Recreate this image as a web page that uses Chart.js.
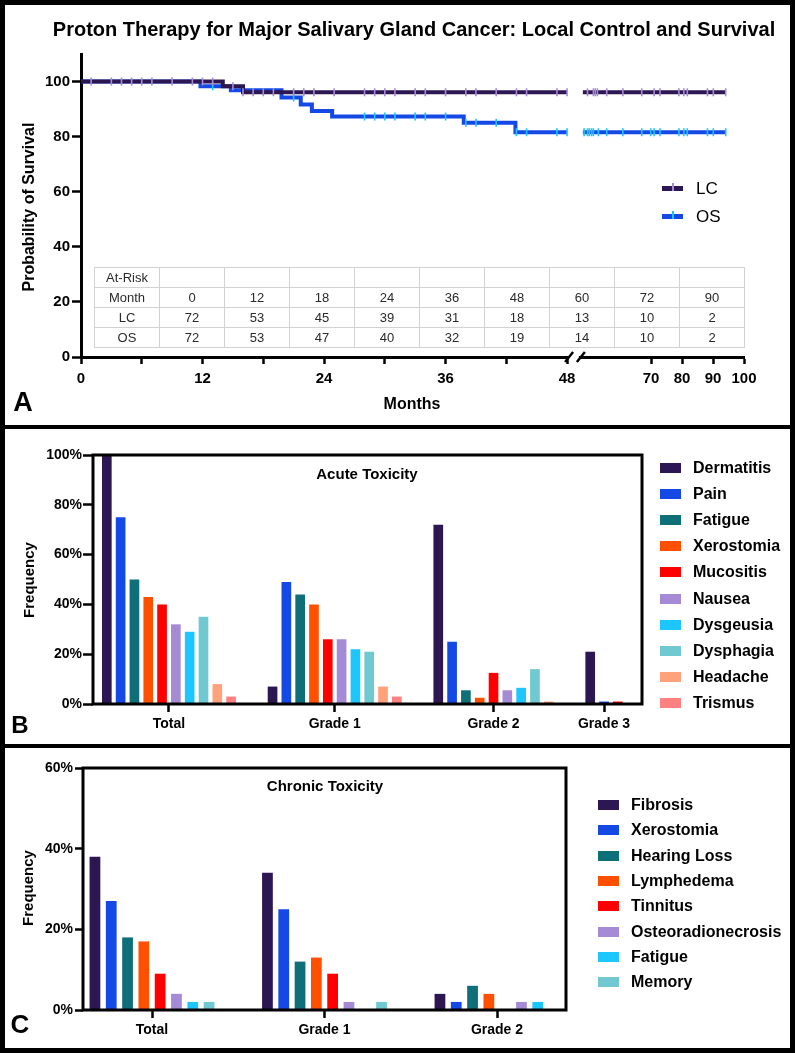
<!DOCTYPE html>
<html>
<head>
<meta charset="utf-8">
<script src="https://cdn.jsdelivr.net/npm/chart.js@4.4.1/dist/chart.umd.min.js"></script>
<style>
  body { margin: 0; background: #fff; }
  #fig { position: relative; width: 795px; height: 1053px; overflow: hidden;
         font-family: "Liberation Sans", Arial, sans-serif; color: #000; }
  #fig canvas { position: absolute; left: 0; }
  .lbl { position: absolute; transform: translate(-50%, -50%); white-space: nowrap;
         font-weight: bold; line-height: 1; }
  .rot { transform: translate(-50%, -50%) rotate(-90deg); }
  .rule { position: absolute; background: #000; }
  .leg { position: absolute; font-weight: bold; font-size: 16px; line-height: 1;
         transform: translateY(-50%); white-space: nowrap; }
  .sw { position: absolute; width: 21px; height: 10px; }
  #risk { position: absolute; left: 94px; top: 267px; display: grid;
          grid-template-columns: repeat(10, 65px); grid-auto-rows: 20px;
          border-left: 1px solid #d2d2d2; border-top: 1px solid #d2d2d2; }
  #risk div { box-sizing: border-box; border-right: 1px solid #d2d2d2; border-bottom: 1px solid #d2d2d2;
              font-size: 13px; color: #2a2a2a; display: flex; align-items: center; justify-content: center; }
</style>
</head>
<body>
<div id="fig">
  <canvas id="km" width="795" height="427" style="top:0;width:795px;height:427px"></canvas>
  <canvas id="acute" width="795" height="319" style="top:427px;width:795px;height:319px"></canvas>
  <canvas id="chronic" width="795" height="307" style="top:746px;width:795px;height:307px"></canvas>

  <div class="lbl" style="left:414px;top:29px;font-size:20px">Proton Therapy for Major Salivary Gland Cancer: Local Control and Survival</div>
  <div class="lbl rot" style="left:29px;top:207px;font-size:16px">Probability of Survival</div>
  <div class="lbl" style="left:412px;top:404px;font-size:16px">Months</div>
  <div class="lbl" style="left:23px;top:402px;font-size:27px">A</div>
  <div class="lbl rot" style="left:28px;top:580px;font-size:15px">Frequency</div>
  <div class="lbl" style="left:367px;top:473px;font-size:15px">Acute Toxicity</div>
  <div class="lbl" style="left:20px;top:725px;font-size:24px">B</div>
  <div class="lbl rot" style="left:27px;top:888px;font-size:15px">Frequency</div>
  <div class="lbl" style="left:325px;top:785px;font-size:15px">Chronic Toxicity</div>
  <div class="lbl" style="left:20px;top:1024px;font-size:26px">C</div>

  <div id="risk"></div>

  <div class="rule" style="left:0;top:0;width:795px;height:5px"></div>
  <div class="rule" style="left:0;top:1048px;width:795px;height:5px"></div>
  <div class="rule" style="left:0;top:0;width:5px;height:1053px"></div>
  <div class="rule" style="left:790px;top:0;width:5px;height:1053px"></div>
  <div class="rule" style="left:0;top:425px;width:795px;height:4px"></div>
  <div class="rule" style="left:0;top:744px;width:795px;height:4px"></div>
</div>
<script>
// ---------- A: Kaplan-Meier local control / overall survival ----------
const lcTimes = [0, 14, 16, 94.1];
const lcSurv  = [100, 98.3, 96.1, 96.1];
const osTimes = [0, 11.8, 14.8, 19.8, 21.7, 22.8, 24.8, 37.8, 42.9, 94.1];
const osSurv  = [100, 98.3, 96.8, 94.2, 91.7, 89.3, 87.3, 85.0, 81.6, 81.6];

// censored observations (months)
const lcCensored = [1, 3, 4, 5, 6, 7, 9, 11, 12, 13, 15, 16, 17, 18, 19, 21, 22, 23, 25,
  28, 29, 30, 31, 33, 34, 36, 38, 39, 41, 43, 44, 47, 48,
  49.5, 51.4, 52, 52.7, 55.7, 60.9, 67, 71, 72.9, 79, 80.6, 81.7, 88.2, 90.1, 94.1];
const osCensored = [13, 21, 28, 29, 30, 31, 33, 34, 36, 38, 39, 41, 43, 44, 47, 48,
  48.4, 49.5, 50.1, 50.8, 51.4, 53, 55.7, 60.9, 67, 69.9, 71, 72.9, 79, 80.6, 81.7, 88.2, 90.1, 94.1];

const monthTicks  = [0, 6, 12, 18, 24, 30, 36, 42, 48, 70, 80, 90, 100];
const monthLabels = ['0', '', '12', '', '24', '', '36', '', '48', '70', '80', '90', '100'];
const survTicks   = [0, 20, 40, 60, 80, 100];

const riskMonths = ['0', '12', '18', '24', '36', '48', '60', '72', '90'];
const riskLC     = [72, 53, 45, 39, 31, 18, 13, 10, 2];
const riskOS     = [72, 53, 47, 40, 32, 19, 14, 10, 2];

// ---------- B: acute toxicity (% of patients) : Total, Grade 1, Grade 2, Grade 3 ----------
const acuteGroups = ['Total', 'Grade 1', 'Grade 2', 'Grade 3'];
const dermatitisAcute = [100, 7, 72, 21];
const painAcute       = [75, 49, 25, 1];
const fatigueAcute    = [50, 44, 5.5, null];
const xerostomiaAcute = [43, 40, 2.5, null];
const mucositisAcute  = [40, 26, 12.5, 1];
const nauseaAcute     = [32, 26, 5.5, null];
const dysgeusiaAcute  = [29, 22, 6.5, null];
const dysphagiaAcute  = [35, 21, 14, null];
const headacheAcute   = [8, 7, 1, null];
const trismusAcute    = [3, 3, null, null];
const acuteTicks = [0, 20, 40, 60, 80, 100];

// ---------- C: chronic toxicity (% of patients) : Total, Grade 1, Grade 2 ----------
const chronicGroups = ['Total', 'Grade 1', 'Grade 2'];
const fibrosisChronic     = [38, 34, 4];
const xerostomiaChronic   = [27, 25, 2];
const hearingChronic      = [18, 12, 6];
const lymphedemaChronic   = [17, 13, 4];
const tinnitusChronic     = [9, 9, null];
const osteoChronic        = [4, 2, 2];
const fatigueChronic      = [2, null, 2];
const memoryChronic       = [2, 2, null];
const chronicTicks = [0, 20, 40, 60];

// ---------- styling ----------
const DARK = '#2d1752', BLUE = '#1449e6', TEAL = '#0f6f78', ORANGE = '#ff5000', RED = '#ff0000',
      LAV = '#a58ad6', CYAN = '#1ec6ff', LTEAL = '#70c8d0', SALMON = '#ffa27c', PINK = '#ff8080';

Chart.defaults.font.family = '"Liberation Sans", Arial, sans-serif';
Chart.defaults.font.size = 14;
Chart.defaults.font.weight = 'bold';
Chart.defaults.color = '#000';
Chart.defaults.animation = false;
Chart.defaults.plugins.legend.display = false;
Chart.defaults.plugins.tooltip.enabled = false;

const setTicks = (values) => (scale) => { scale.ticks = values.map(v => ({ value: v })); };
const fixWidth = (w) => (scale) => { scale.width = w; };
const fixHeight = (h) => (scale) => { scale.height = h; };
const tickGrid = (len) => ({ drawOnChartArea: false, drawTicks: true, tickLength: len, offset: false,
                             tickWidth: 2.5, tickColor: '#000', color: '#000' });

// ---- axis break: 0-48 months at full scale, 48-100 compressed ----
const BREAK_AT = 48, BREAK_GAP = 1.56, SEG2_SCALE = 0.306;
const tx = (m, second = m > BREAK_AT) =>
  second ? BREAK_AT + BREAK_GAP + (m - BREAK_AT) * SEG2_SCALE : m;

function survAt(times, surv, t) {
  let s = surv[0];
  times.forEach((tt, i) => { if (tt <= t) s = surv[i]; });
  return s;
}
function kmPoints(times, surv) {
  const pts = [];
  let broke = false;
  times.forEach((t, i) => {
    if (!broke && t > BREAK_AT) {
      const s = survAt(times, surv, BREAK_AT);
      pts.push({ x: tx(BREAK_AT), y: s }, { x: tx(BREAK_AT), y: null }, { x: tx(BREAK_AT, true), y: s });
      broke = true;
    }
    pts.push({ x: tx(t), y: surv[i] });
  });
  return pts;
}
const censorPoints = (marks, times, surv) => marks.map(m => ({ x: tx(m), y: survAt(times, surv, m) }));

const censorSet = (data, color) => ({
  data, showLine: false, pointStyle: 'line', pointRotation: 90, pointRadius: 4,
  pointBorderWidth: 1.6, pointBorderColor: color, pointBackgroundColor: color
});
const kmSet = (data, color) => ({
  data, stepped: 'before', borderColor: color, borderWidth: 4, pointRadius: 0,
  borderJoinStyle: 'miter', fill: false
});

const breakPlugin = {
  id: 'axisBreak',
  afterDraw(chart) {
    const { ctx, chartArea, scales } = chart;
    const x1 = scales.x.getPixelForValue(tx(BREAK_AT));
    const x2 = scales.x.getPixelForValue(tx(BREAK_AT, true));
    const y = chartArea.bottom;
    ctx.save();
    ctx.fillStyle = '#fff';
    ctx.fillRect(x1 + 2, y - 4, x2 - x1 - 6, 8);
    ctx.strokeStyle = '#000';
    ctx.lineWidth = 2.5;
    ctx.beginPath();
    ctx.moveTo(x1 - 2, y + 5); ctx.lineTo(x1 + 6, y - 5);
    ctx.moveTo(x2 - 6, y + 5); ctx.lineTo(x2 + 2, y - 5);
    ctx.stroke();
    ctx.restore();
  }
};

new Chart(document.getElementById('km'), {
  type: 'line',
  data: {
    datasets: [
      censorSet(censorPoints(lcCensored, lcTimes, lcSurv), LAV),
      censorSet(censorPoints(osCensored, osTimes, osSurv), CYAN),
      kmSet(kmPoints(lcTimes, lcSurv), DARK),
      kmSet(kmPoints(osTimes, osSurv), BLUE)
    ]
  },
  options: {
    responsive: false,
    layout: { padding: { left: 0, right: 51, top: 54, bottom: 0 } },
    scales: {
      x: {
        type: 'linear', min: 0, max: tx(100), offset: false,
        afterBuildTicks: setTicks(monthTicks.map(m => tx(m))),
        afterFit: fixHeight(70),
        border: { display: true, color: '#000', width: 3 },
        grid: tickGrid(7),
        ticks: { autoSkip: false, maxRotation: 0, padding: 6, font: { size: 15 },
                 callback: (v, i) => monthLabels[i] }
      },
      y: {
        min: 0, max: 110,
        afterBuildTicks: setTicks(survTicks),
        afterFit: fixWidth(81),
        border: { display: true, color: '#000', width: 3 },
        grid: tickGrid(9),
        ticks: { padding: 2, font: { size: 15 } }
      }
    }
  },
  plugins: [breakPlugin]
});

// ---- at-risk table ----
const riskEl = document.getElementById('risk');
[['At-Risk', ...riskMonths.map(() => '')], ['Month', ...riskMonths], ['LC', ...riskLC], ['OS', ...riskOS]]
  .forEach(row => row.forEach(txt => {
    const c = document.createElement('div');
    c.textContent = txt;
    riskEl.appendChild(c);
  }));

// ---- KM legend ----
const fig = document.getElementById('fig');
function addEl(cls, css, text) {
  const d = document.createElement('div');
  d.className = cls;
  d.style.cssText = css;
  if (text) d.textContent = text;
  fig.appendChild(d);
  return d;
}
[['LC', DARK, LAV, 188], ['OS', BLUE, CYAN, 216]].forEach(([name, line, tick, cy]) => {
  addEl('', `position:absolute;left:662px;top:${cy - 2.5}px;width:21px;height:5px;background:${line}`);
  addEl('', `position:absolute;left:672px;top:${cy - 5}px;width:1.6px;height:8px;background:${tick}`);
  addEl('leg', `left:696px;top:${cy}px;font-size:17px;font-weight:normal`, name);
});

const framePlugin = {
  id: 'frame',
  afterDatasetsDraw(chart) {
    const { ctx, chartArea: a } = chart;
    ctx.save();
    ctx.lineWidth = 3;
    ctx.strokeStyle = '#000';
    ctx.strokeRect(a.left, a.top, a.right - a.left, a.bottom - a.top);
    ctx.restore();
  }
};

// ---------- B: acute toxicity bars ----------
const acuteSeries = [
  ['Dermatitis', dermatitisAcute, DARK], ['Pain', painAcute, BLUE], ['Fatigue', fatigueAcute, TEAL],
  ['Xerostomia', xerostomiaAcute, ORANGE], ['Mucositis', mucositisAcute, RED], ['Nausea', nauseaAcute, LAV],
  ['Dysgeusia', dysgeusiaAcute, CYAN], ['Dysphagia', dysphagiaAcute, LTEAL], ['Headache', headacheAcute, SALMON],
  ['Trismus', trismusAcute, PINK]
];
// bars of each grade sit side by side; empty entries take no room, 2 empty slots between grades
const acutePoints = acuteSeries.map(() => []);
const acuteCenters = [];
let slot = 0;
acuteGroups.forEach((g, gi) => {
  const start = slot;
  acuteSeries.forEach(([, vals], si) => {
    if (vals[gi] !== null) { acutePoints[si].push({ x: slot, y: vals[gi] }); slot++; }
  });
  acuteCenters.push((start + slot - 1) / 2);
  slot += 2;
});
const lastSlot = slot - 3;

new Chart(document.getElementById('acute'), {
  type: 'bar',
  data: {
    datasets: acuteSeries.map(([name, , color], si) => ({
      label: name, data: acutePoints[si], backgroundColor: color,
      grouped: false, categoryPercentage: 1, barPercentage: 0.7
    }))
  },
  options: {
    responsive: false,
    layout: { padding: { left: 0, right: 153, top: 28, bottom: 0 } },
    scales: {
      x: {
        type: 'linear', min: -1, max: lastSlot + 1.75, offset: false,
        afterBuildTicks: setTicks(acuteCenters),
        afterFit: fixHeight(42),
        border: { display: false },
        grid: tickGrid(8),
        ticks: { autoSkip: false, maxRotation: 0, padding: 4, callback: (v, i) => acuteGroups[i] }
      },
      y: {
        min: 0, max: 100,
        afterBuildTicks: setTicks(acuteTicks),
        afterFit: fixWidth(93),
        border: { display: false },
        grid: tickGrid(10),
        ticks: { padding: 1, callback: v => v + '%' }
      }
    }
  },
  plugins: [framePlugin]
});
acuteSeries.forEach(([name, , color], i) => {
  const cy = 468 + 26.1 * i;
  addEl('sw', `left:660px;top:${cy - 5}px;background:${color}`);
  addEl('leg', `left:693px;top:${cy}px`, name);
});

// ---------- C: chronic toxicity bars ----------
const chronicSeries = [
  ['Fibrosis', fibrosisChronic, DARK], ['Xerostomia', xerostomiaChronic, BLUE],
  ['Hearing Loss', hearingChronic, TEAL], ['Lymphedema', lymphedemaChronic, ORANGE],
  ['Tinnitus', tinnitusChronic, RED], ['Osteoradionecrosis', osteoChronic, LAV],
  ['Fatigue', fatigueChronic, CYAN], ['Memory', memoryChronic, LTEAL]
];
new Chart(document.getElementById('chronic'), {
  type: 'bar',
  data: {
    datasets: chronicSeries.map(([name, vals, color]) => ({
      label: name, data: vals.map((v, gi) => ({ x: gi, y: v })), backgroundColor: color,
      categoryPercentage: 0.756, barPercentage: 0.66
    }))
  },
  options: {
    responsive: false,
    layout: { padding: { left: 0, right: 229, top: 22, bottom: 0 } },
    scales: {
      x: {
        type: 'linear', min: -0.4, max: chronicGroups.length - 0.6, offset: false,
        afterBuildTicks: setTicks(chronicGroups.map((g, i) => i)),
        afterFit: fixHeight(43),
        border: { display: false },
        grid: tickGrid(8),
        ticks: { autoSkip: false, maxRotation: 0, padding: 4, callback: (v, i) => chronicGroups[i] }
      },
      y: {
        min: 0, max: 60,
        afterBuildTicks: setTicks(chronicTicks),
        afterFit: fixWidth(83),
        border: { display: false },
        grid: tickGrid(8),
        ticks: { padding: 2, callback: v => v + '%' }
      }
    }
  },
  plugins: [framePlugin]
});
chronicSeries.forEach(([name, , color], i) => {
  const cy = 805 + 25.3 * i;
  addEl('sw', `left:598px;top:${cy - 5}px;background:${color}`);
  addEl('leg', `left:631px;top:${cy}px`, name);
});
</script>
</body>
</html>
